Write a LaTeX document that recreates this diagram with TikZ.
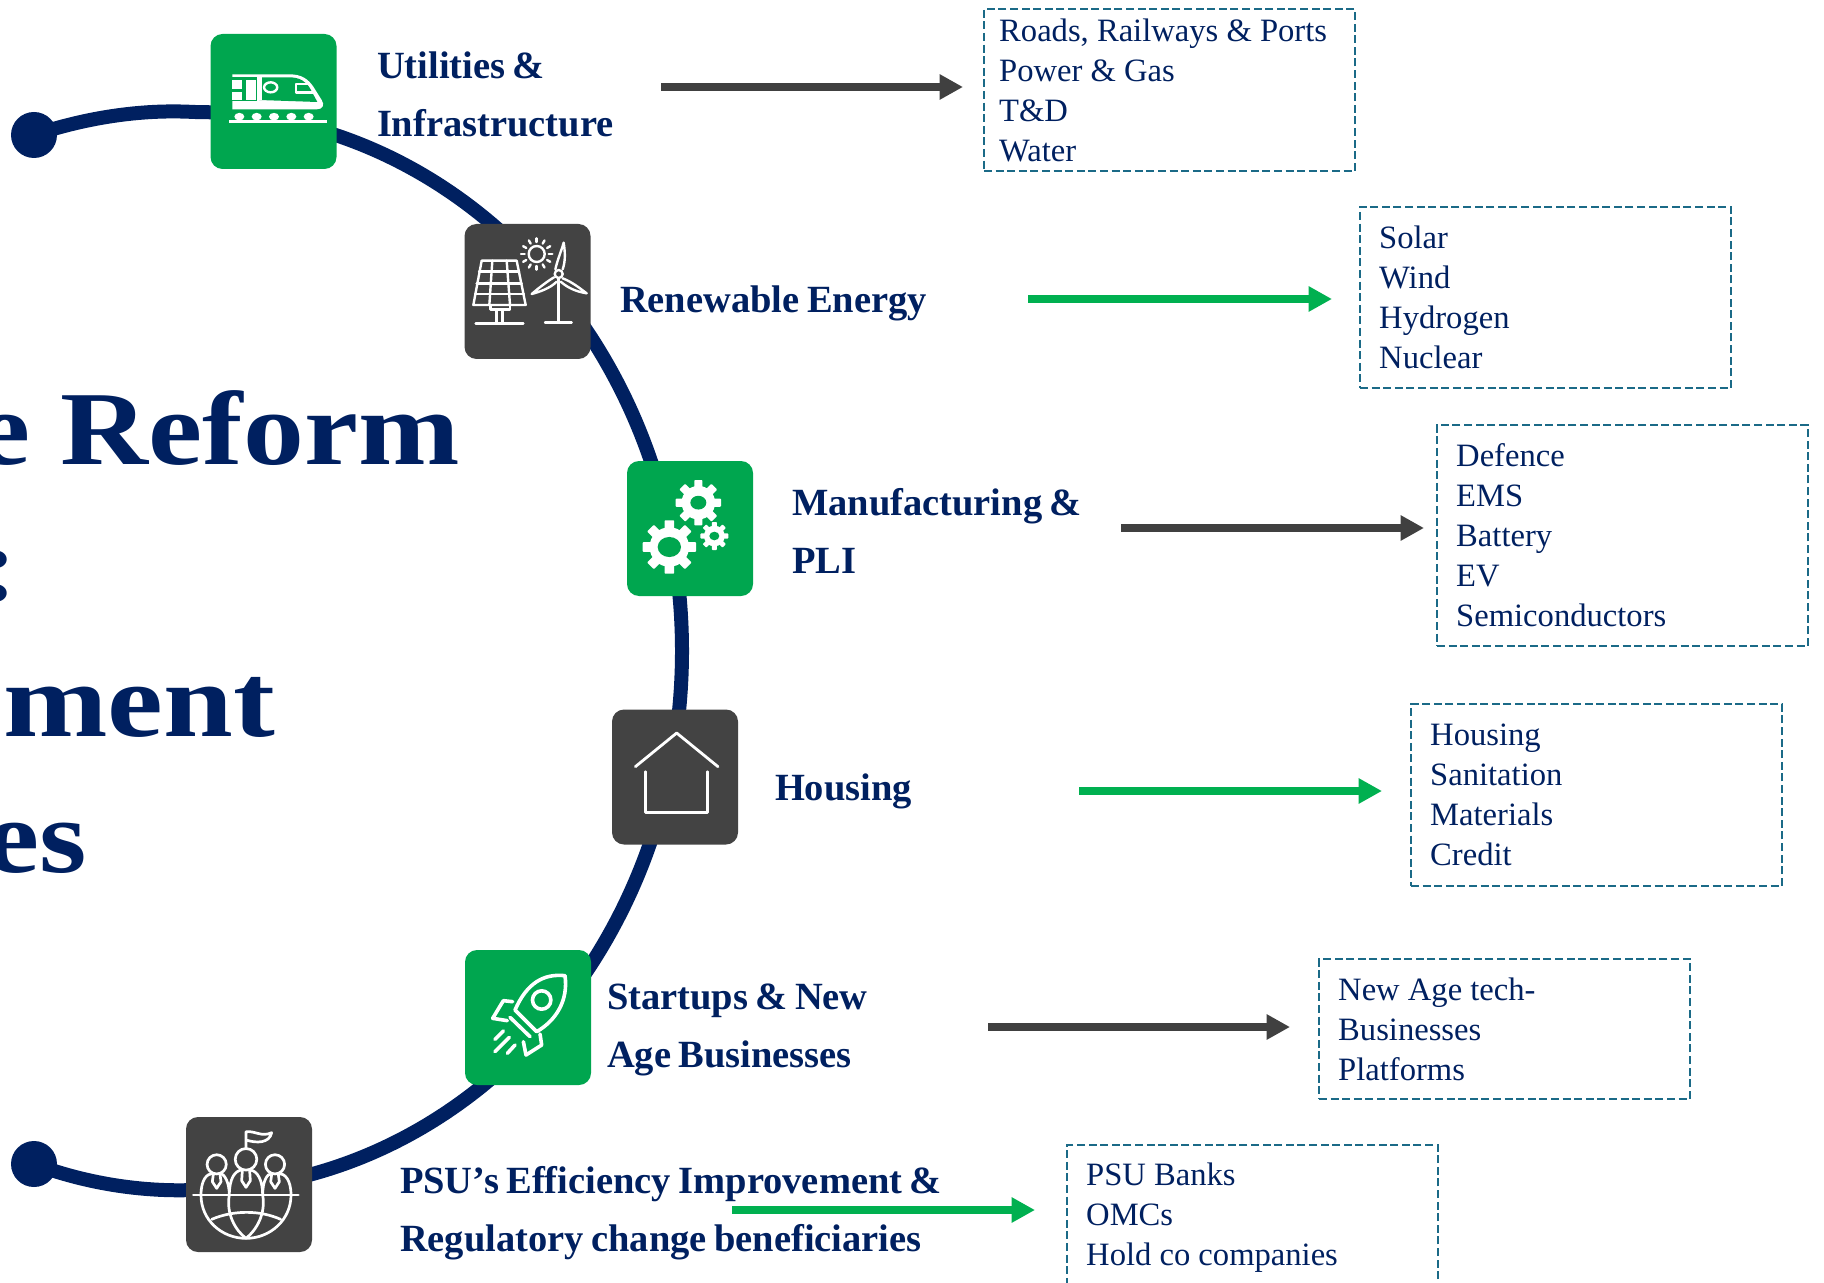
\documentclass[tikz,border=0pt]{standalone}
\usepackage{fontspec}
\usepackage{graphicx}
\usetikzlibrary{arrows.meta}
\setmainfont{Liberation Serif}
\newfontfamily\titlefont[FakeStretch=1.16]{Liberation Serif Bold}
\newfontfamily\labelfont{Liberation Serif Bold}
\newcommand{\listfont}{\fontsize{16.3}{20}\selectfont\frenchspacing}
\newcommand{\themefont}{\labelfont\fontsize{19.25}{29}\selectfont\frenchspacing\fontdimen2\font=3.7pt\relax}
\definecolor{navy}{HTML}{002060}
\definecolor{iconGreen}{HTML}{00A64F}
\definecolor{iconDark}{HTML}{434343}
\definecolor{arrowGreen}{HTML}{00B050}
\definecolor{arrowDark}{HTML}{404040}
\definecolor{dashBlue}{HTML}{1B6A87}
\tikzset{
  arcline/.style={navy,line width=7pt},
  endball/.style={circle,fill=navy,inner sep=0pt,minimum size=23pt,outer sep=0pt},
  iconbox/.style={rectangle,rounded corners=6pt,minimum width=63pt,minimum height=67.5pt,inner sep=0pt,outer sep=0pt},
  greenbox/.style={iconbox,fill=iconGreen},
  darkbox/.style={iconbox,fill=iconDark},
  themetext/.style={anchor=base west,inner sep=0pt,outer sep=0pt,align=left,text=navy,font=\themefont},
  bigtitle/.style={anchor=base east,inner sep=0pt,outer sep=0pt,text=navy,font=\titlefont\fontsize{52.5}{60}\selectfont},
  listbox/.style={draw=dashBlue,line width=1pt,dash pattern=on 4pt off 1.8pt,anchor=north west,align=flush left,text=navy,
    font=\listfont,outer sep=0pt,inner ysep=0pt,inner xsep=9.6pt,text width=166.3pt,minimum width=185.5pt},
  flowarrow/.style={line width=3.8pt,-{Triangle[length=11.7pt,width=12pt]}},
  zoomed/.style={x=0.16667pt,y=-0.16667pt},
  iconline/.style={draw=white,line width=1.2pt,line cap=round,line join=round},
}
\newcommand{\gearicon}[4]{%
  \fill[white] (#1,#2) circle[radius=#3*0.16667pt*0.74];
  \foreach \a in {0,45,...,315}{
    \fill[white,rounded corners=0.4pt,rotate around={\a:(#1,#2)}]
      ({#1-0.18*#3},#2) rectangle ({#1+0.18*#3},{#2-#3});
  }
  \fill[iconGreen] (#1,#2) circle[x radius=#4*0.16667pt,y radius=#4*0.16667pt*0.86];
}
\begin{document}
\begin{tikzpicture}[x=0.5pt,y=-0.5pt]
\useasboundingbox (0,0) rectangle (1824,1283);
\clip (0,0) rectangle (1824,1283);

% spine
\draw[arcline] (34,135) .. controls (85,118) and (140,109) .. (194,112)
  .. controls (463.5,112) and (682,353) .. (682,651)
  .. controls (682,948.7) and (463.5,1190) .. (194,1190)
  .. controls (140,1192) and (85,1183) .. (34,1164);
\node[endball] (ballTop) at (34,135) {};
\node[endball] (ballBot) at (34,1164) {};

% title fragments
\node[bigtitle] (titleA) at (460,464) {e Reform};
\node[bigtitle] (titleB) at (18,600) {:};
\node[bigtitle] (titleC) at (275,736) {\scalebox{1.03}[1]{ment}};
\node[bigtitle] (titleD) at (87,872) {es};

% icon boxes
\node[greenbox] (iconA) at (273.5,101.5) {};
\node[darkbox]  (iconB) at (527.5,291.5) {};
\node[greenbox] (iconC) at (690,528.5) {};
\node[darkbox]  (iconD) at (675,777) {};
\node[greenbox] (iconE) at (528,1017.5) {};
\node[darkbox]  (iconF) at (249,1184.5) {};

% train
\begin{scope}[shift={(200,20)},zoomed]
  \fill[white] (97,163) -- (270,163) .. controls (305,163) and (325,178) .. (340,200) -- (365,240)
     .. controls (375,255) and (368,268) .. (350,268) -- (97,268) -- cycle;
  \fill[iconGreen] (178,172) -- (268,172) .. controls (300,172) and (318,185) .. (330,205) -- (352,246) -- (178,240) -- cycle;
  \fill[iconGreen] (97,172) -- (170,172) -- (170,243) -- (97,243) -- cycle;
  \fill[white] (97,181) rectangle (127,207);
  \fill[white] (97,215) rectangle (127,241);
  \fill[white] (137,181) rectangle (167,241);
  \fill[white] (178,240) -- (178,172) -- (185,172) -- (185,240) -- cycle;
  \draw[white,line width=1.2pt] (212,202) ellipse[x radius=3.3pt,y radius=2.5pt];
  \draw[white,line width=1.2pt,line join=round] (330,192) -- (288,192) -- (288,218) -- (346,218);
  \foreach \wx in {118,170,222,274,326}{
    \fill[white] (\wx,290) circle[x radius=2.5pt,y radius=1.9pt];
  }
  \fill[white] (87,301) rectangle (381,308);
\end{scope}

% solar panel, sun and turbine
\begin{scope}[shift={(200,20)},zoomed]
  \draw[iconline] (845,722) -- (950,722) -- (977,855) -- (820,855) -- cycle;
  \draw[iconline] (837,755) -- (957,755) (830,790) -- (965,790) (825,822) -- (972,822);
  \draw[iconline] (877,722) -- (868,855) (920,722) -- (930,855);
  \draw[iconline] (872,857) -- (872,869) -- (930,869) -- (930,857);
  \draw[iconline] (890,869) -- (890,910) (908,869) -- (908,910);
  \draw[iconline] (827,911) -- (970,911);
  \draw[iconline] (1010,702) circle[radius=4pt];
  \foreach \r in {0,30,...,330}{
    \draw[iconline] ({1010+36*cos(\r)},{702+36*sin(\r)}) -- ({1010+47*cos(\r)},{702+47*sin(\r)});
  }
  \draw[iconline] (1075,775) -- (1075,908) (1035,908) -- (1115,908);
  \draw[iconline] (1076,762) circle[radius=2pt];
  \draw[iconline] (1066,748) .. controls (1072,720) and (1085,690) .. (1091,668) .. controls (1096,700) and (1096,725) .. (1088,748);
  \draw[iconline] (1088,775) .. controls (1115,785) and (1140,805) .. (1160,820) .. controls (1130,815) and (1105,805) .. (1082,785);
  \draw[iconline] (1062,772) .. controls (1040,785) and (1015,805) .. (995,822) .. controls (1020,815) and (1050,805) .. (1070,785);
\end{scope}

% gears
\begin{scope}[shift={(600,450)},zoomed]
  \gearicon{208}{291}{80}{35}
  \gearicon{295}{158}{68}{24}
  \gearicon{343}{258}{42}{15}
\end{scope}

% house
\begin{scope}[shift={(600,450)},zoomed]
  \draw[iconline,line width=1.4pt] (106,950) -- (230,849) -- (354,950);
  \draw[iconline,line width=1.4pt] (137,965) -- (137,1088) -- (323,1088) -- (323,965);
\end{scope}

% rocket
\begin{scope}[shift={(170,930)},zoomed,iconline/.append style={line width=1.8pt}]
  \draw[iconline] (1185,137) .. controls (1120,130) and (1070,160) .. (1035,240) -- (1100,305) .. controls (1160,270) and (1195,210) .. (1185,137) -- cycle;
  \draw[iconline] (1115,210) circle[radius=4.6pt];
  \draw[iconline] (1020,262) -- (1080,320);
  \draw[iconline] (1028,215) -- (1000,212) -- (968,265) -- (1012,272);
  \draw[iconline] (1110,312) -- (1115,345) -- (1068,375) -- (1060,335);
  \draw[iconline] (975,328) -- (1000,303) (975,365) -- (1018,322) (1012,370) -- (1035,345);
\end{scope}

% people on the globe
\begin{scope}[shift={(170,930)},zoomed,iconline/.append style={line width=1.35pt}]
  \draw[iconline] (70,795) -- (385,795);
  \draw[iconline] (140,703) circle[radius=4.8pt];
  \draw[iconline] (228,688) circle[radius=5.4pt];
  \draw[iconline] (315,703) circle[radius=4.8pt];
  \draw[iconline] (228,655) -- (228,605) .. controls (255,602) and (275,622) .. (305,608) .. controls (298,640) and (260,640) .. (228,630);
  \draw[iconline] (93,795) .. controls (93,750) and (110,730) .. (130,730) (150,730) .. controls (165,732) and (178,760) .. (178,795)
     .. controls (178,745) and (195,722) .. (215,720) (240,720) .. controls (262,722) and (278,750) .. (278,795)
     .. controls (278,755) and (290,732) .. (305,730) (325,730) .. controls (345,730) and (363,750) .. (363,795);
  \draw[iconline] (130,733) -- (127,755) -- (140,775) -- (153,755) -- (150,733);
  \draw[iconline] (217,722) -- (215,752) -- (228,772) -- (241,752) -- (239,722);
  \draw[iconline] (305,733) -- (302,755) -- (315,775) -- (328,755) -- (325,733);
  \draw[iconline] (93,795) .. controls (93,870) and (155,925) .. (228,925) .. controls (300,925) and (363,870) .. (363,795);
  \draw[iconline] (178,795) .. controls (168,850) and (195,900) .. (228,925) .. controls (260,900) and (288,850) .. (278,795);
  \draw[iconline] (125,868) .. controls (190,840) and (270,840) .. (332,868);
\end{scope}

% theme labels
\node[themetext] (labelA) at (377,137) {Utilities \&\\Infrastructure};
\node[themetext] (labelB) at (620,313) {Renewable Energy};
\node[themetext] (labelC) at (792,573) {Manufacturing \&\\PLI};
\node[themetext] (labelD) at (775,800) {Housing};
\node[themetext] (labelE) at (607,1067) {Startups \& New\\Age Businesses};
\node[themetext] (labelF) at (400,1251) {PSU’s Efficiency Improvement \&\\Regulatory change beneficiaries};

% dashed lists
\node[listbox,minimum height=81pt,inner xsep=7.6pt,text width=170.3pt] (listA) at (984,9) {Roads, Railways \& Ports\\Power \& Gas\\T\&D\\Water};
\node[listbox,minimum height=90.5pt] (listB) at (1360,207) {Solar\\Wind\\Hydrogen\\Nuclear};
\node[listbox,minimum height=110.5pt] (listC) at (1437,425) {Defence\\EMS\\Battery\\EV\\Semiconductors};
\node[listbox,minimum height=91pt] (listD) at (1411,704) {Housing\\Sanitation\\Materials\\Credit};
\node[listbox,minimum height=70pt] (listE) at (1319,959) {New Age tech-\\Businesses\\Platforms};
\node[listbox,minimum height=73pt] (listF) at (1067,1145) {PSU Banks\\OMCs\\Hold co companies};

% arrows
\coordinate (fromA) at (661,87);   \coordinate (toA) at (963,87);
\coordinate (fromB) at (1028,299); \coordinate (toB) at (1332,299);
\coordinate (fromC) at (1121,528); \coordinate (toC) at (1424,528);
\coordinate (fromD) at (1079,791); \coordinate (toD) at (1382,791);
\coordinate (fromE) at (988,1027); \coordinate (toE) at (1290,1027);
\coordinate (fromF) at (732,1210); \coordinate (toF) at (1035,1210);
\draw[flowarrow,arrowDark]  (fromA) -- (toA);
\draw[flowarrow,arrowGreen] (fromB) -- (toB);
\draw[flowarrow,arrowDark]  (fromC) -- (toC);
\draw[flowarrow,arrowGreen] (fromD) -- (toD);
\draw[flowarrow,arrowDark]  (fromE) -- (toE);
\draw[flowarrow,arrowGreen] (fromF) -- (toF);
\end{tikzpicture}
\end{document}
